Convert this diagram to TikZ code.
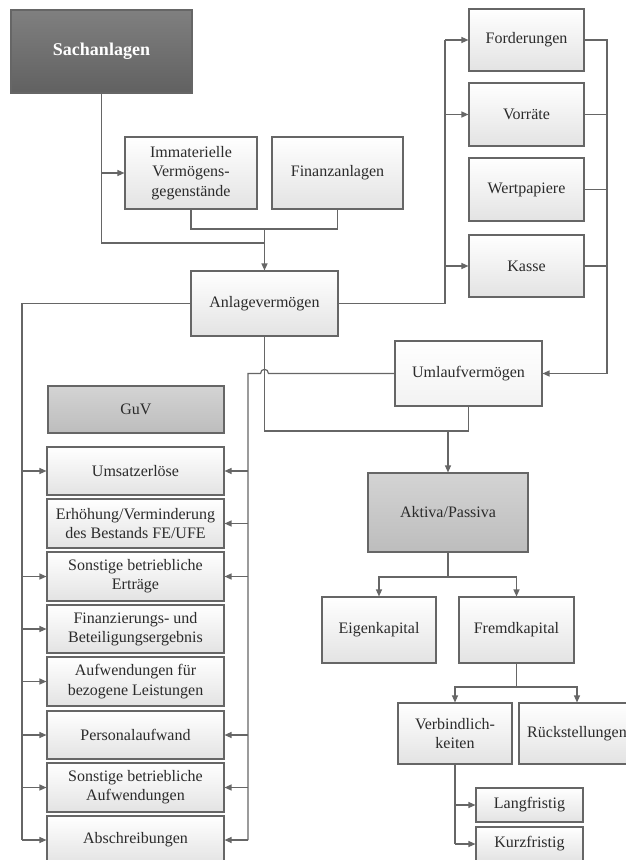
\documentclass[tikz,border=0pt]{standalone}
\usepackage{fontspec}
\setmainfont{Liberation Serif}
\usetikzlibrary{arrows.meta,shadows}
\definecolor{lc}{HTML}{666666}
\definecolor{tc}{HTML}{2B2B2B}
\begin{document}
\begin{tikzpicture}[x=1pt,y=-1pt,
  box/.style={draw=lc, line width=1.1pt, top color=white, bottom color=black!11,
    text=tc, align=center, font=\fontsize{16}{19.3}\selectfont, inner sep=2pt,
    drop shadow={shadow xshift=1.3pt,shadow yshift=-1.3pt,opacity=0.25}},
  wh/.style 2 args={minimum width=#1pt, minimum height=#2pt},
  darkbox/.style={box, top color=black!50, bottom color=black!62, text=white,
    font=\fontsize{18}{21}\selectfont\bfseries},
  midbox/.style={box, top color=black!17, bottom color=black!26},
  ln/.style={draw=lc, line width=1.2pt},
  arr/.style={ln, -{Triangle[length=7pt,width=6pt]}},
]
\useasboundingbox (0,0) rectangle (626,860);
\fill[white] (0,0) rectangle (626,860);

% top left
\node[darkbox, wh={181}{83}] (sach) at (101.5,51.5) {Sachanlagen};
\node[box, wh={132}{72}] (imm) at (191,173) {Immaterielle\\Vermögens-\\gegenstände};
\node[box, wh={131}{72}] (fin) at (337.5,173) {Finanzanlagen};
\node[box, wh={147}{65}] (anl) at (264.5,303.5) {Anlagevermögen};

% Umlauf components
\node[box, wh={115}{62}] (ford) at (526.5,40) {Forderungen};
\node[box, wh={115}{63}] (vorr) at (526.5,114.5) {Vorräte};
\node[box, wh={115}{63}] (wert) at (526.5,189.5) {Wertpapiere};
\node[box, wh={115}{62}] (kasse) at (526.5,266) {Kasse};
\node[box, top color=white, bottom color=black!5, wh={147}{65}] (uml) at (468.5,373.5) {Umlaufvermögen};

% Bilanz
\node[midbox, wh={160}{79}] (akt) at (448,512.5) {Aktiva/Passiva};
\node[box, wh={114}{66}] (eigen) at (379,630) {Eigenkapital};
\node[box, wh={115}{66}] (fremd) at (516.5,630) {Fremdkapital};
\node[box, wh={114}{61}] (verb) at (455,733.5) {Verbindlich-\\keiten};
\node[box, wh={116}{61}] (rueck) at (577,733.5) {Rückstellungen};
\node[box, wh={107}{34}] (lang) at (529.5,805) {Langfristig};
\node[box, wh={107}{34}] (kurz) at (529.5,844) {Kurzfristig};

% GuV
\node[midbox, wh={176}{47}] (guv) at (136,409.5) {GuV};
\node[box, wh={177}{48}] (umsatz) at (135.5,471) {Umsatzerlöse};
\node[box, wh={177}{49}] (erh) at (135.5,523.5) {Erhöhung/Verminderung\\des Bestands FE/UFE};
\node[box, wh={177}{49}] (sonste) at (135.5,576.5) {Sonstige betriebliche\\Erträge};
\node[box, wh={177}{48}] (finz) at (135.5,629) {Finanzierungs- und\\Beteiligungsergebnis};
\node[box, wh={177}{49}] (aufw) at (135.5,681.5) {Aufwendungen für\\bezogene Leistungen};
\node[box, wh={177}{48}] (pers) at (135.5,735) {Personalaufwand};
\node[box, wh={177}{49}] (sonsta) at (135.5,787.5) {Sonstige betriebliche\\Aufwendungen};
\node[box, wh={177}{48}] (abschr) at (135.5,840) {Abschreibungen};

% junction coordinates
\coordinate (jA) at (264.5,243);
\coordinate (jB) at (264.5,229);
\coordinate (busL) at (445,0);
\coordinate (busR) at (607,0);
\coordinate (jD) at (264.5,431);
\coordinate (jE) at (448,431);
\coordinate (jF) at (448,577);
\coordinate (jG) at (516.5,687);
\coordinate (gL) at (22,0);
\coordinate (gR) at (248,0);
\coordinate (hR) at (268.5,373.5);
\coordinate (hL) at (260.5,373.5);

% Anlagevermoegen inputs
\draw[ln] (sach.south) |- (jA);
\draw[arr] (sach.south |- imm.west) -- (imm.west);
\draw[ln] (imm.south) |- (jB);
\draw[ln] (fin.south) |- (jB);
\draw[arr] (jB) -- (anl.north);

% Anlagevermoegen to Umlauf components
\draw[ln] (anl.east) -| (busL |- ford.west);
\draw[arr] (busL |- ford.west) -- (ford.west);
\draw[arr] (busL |- vorr.west) -- (vorr.west);
\draw[arr] (busL |- kasse.west) -- (kasse.west);

% components to Umlaufvermoegen
\draw[ln] (ford.east) -| (busR |- uml.east);
\draw[ln] (vorr.east) -- (busR |- vorr.east);
\draw[ln] (wert.east) -- (busR |- wert.east);
\draw[ln] (kasse.east) -- (busR |- kasse.east);
\draw[arr] (busR |- uml.east) -- (uml.east);

% Anlage + Umlauf to Aktiva/Passiva
\draw[ln] (anl.south) -- (jD) -| (uml.south);
\draw[arr] (jE) -- (akt.north);

% Aktiva/Passiva split
\draw[ln] (akt.south) -- (jF);
\draw[arr] (jF) -| (eigen.north);
\draw[arr] (jF) -| (fremd.north);
\draw[ln] (fremd.south) -- (jG);
\draw[arr] (jG) -| (verb.north);
\draw[arr] (jG) -| (rueck.north);
\draw[ln] (verb.south) -- (verb.south |- kurz.west);
\draw[arr] (verb.south |- lang.west) -- (lang.west);
\draw[arr] (verb.south |- kurz.west) -- (kurz.west);

% Umlauf to GuV (right bus, with jump)
\draw[ln] (uml.west) -- (hR) .. controls (268.5,368) and (260.5,368) .. (hL) -- (gR |- uml.west) -- (gR |- abschr.east);
\foreach \n in {umsatz,erh,sonste,pers,sonsta,abschr}
  \draw[arr] (gR |- \n.east) -- (\n.east);

% Anlage to GuV (left bus)
\draw[ln] (anl.west) -- (gL |- anl.west) -- (gL |- abschr.west);
\foreach \n in {umsatz,sonste,finz,aufw,pers,sonsta,abschr}
  \draw[arr] (gL |- \n.west) -- (\n.west);
\end{tikzpicture}
\end{document}
